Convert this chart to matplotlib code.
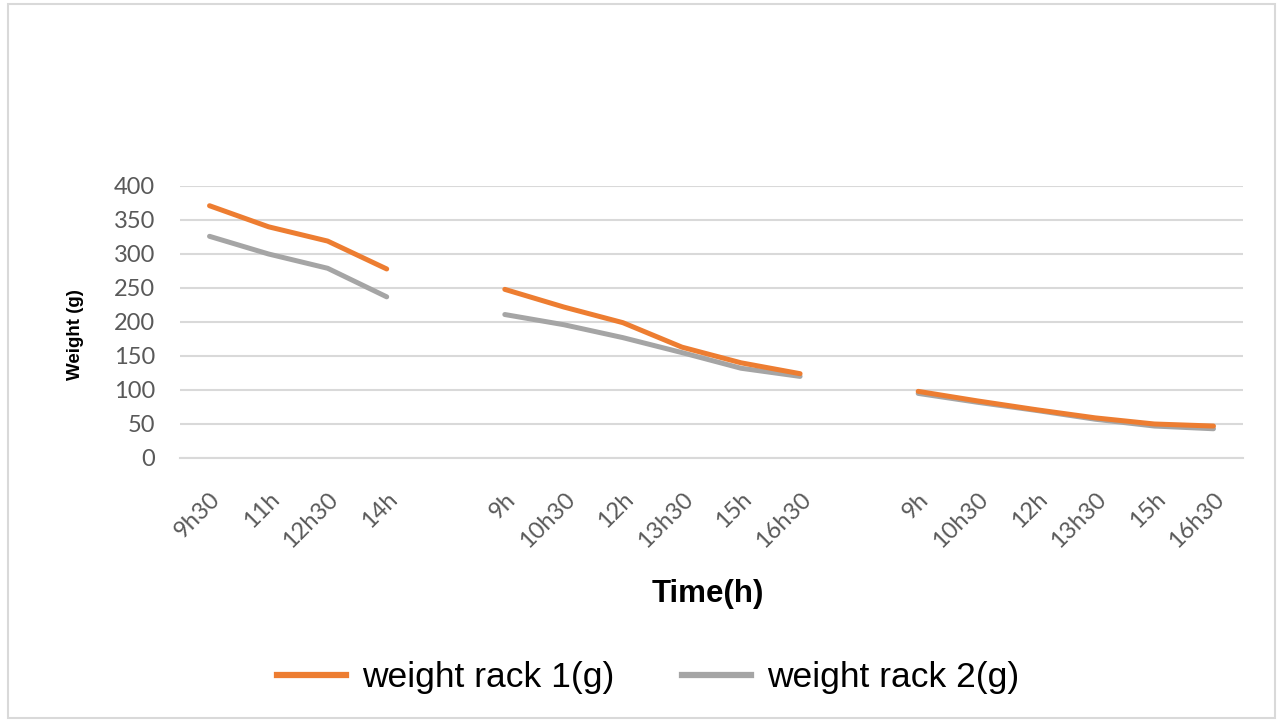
import numpy as np
import matplotlib.pyplot as plt
from matplotlib.patches import Rectangle
from matplotlib.lines import Line2D

# three days of drying, blank slots separate the days
time_labels = ["9h30", "11h", "12h30", "14h", "",
               "9h", "10h30", "12h", "13h30", "15h", "16h30", "",
               "9h", "10h30", "12h", "13h30", "15h", "16h30"]
nan = np.nan
rack1 = [371, 340, 319, 278, nan,
         248, 222, 199, 163, 140, 124, nan,
         98, 84, 71, 59, 50, 47]
rack2 = [326, 300, 279, 237, nan,
         211, 196, 177, 155, 132, 120, nan,
         95, 82, 70, 57, 47, 43]

orange = "#ED7D31"
gray = "#A5A5A5"

fig = plt.figure(figsize=(12.82, 7.25), dpi=100)
fig.patches.append(Rectangle((8 / 1282, 7 / 725), 1267 / 1282, 714 / 725,
                             transform=fig.transFigure, fill=False,
                             edgecolor="#D9D9D9", linewidth=1.5))

ax = fig.add_axes([180 / 1282, 1 - 458 / 725, 1063 / 1282, 272 / 725])
x = np.arange(len(time_labels))
ax.plot(x, rack2, color=gray, linewidth=3.6, solid_capstyle="round", zorder=3)
ax.plot(x, rack1, color=orange, linewidth=3.6, solid_capstyle="round", zorder=4)

ax.set_xlim(-0.5, len(time_labels) - 0.5)
ax.set_ylim(0, 400)
ax.set_yticks(range(0, 401, 50))
ax.yaxis.grid(True, color="#D9D9D9", linewidth=1.5)
ax.set_axisbelow(True)
for side in ["top", "right", "left"]:
    ax.spines[side].set_visible(False)
ax.spines["bottom"].set_color("#D9D9D9")
ax.spines["bottom"].set_linewidth(1.5)

ax.set_xticks(x)
ax.set_xticklabels(time_labels, rotation=45, ha="right", rotation_mode="anchor",
                   fontsize=17, color="#595959", family="Lato")
ax.tick_params(axis="both", length=0)
ax.tick_params(axis="x", pad=22)
ax.tick_params(axis="y", pad=18)
for lbl in ax.get_yticklabels():
    lbl.set_fontsize(17)
    lbl.set_color("#595959")
    lbl.set_family("Lato")

fig.text(75 / 1282, 1 - 335 / 725, "Weight (g)", rotation=90, ha="center", va="center",
         fontsize=13.5, fontweight="bold", family="Liberation Sans")
fig.text(708 / 1282, 1 - 594 / 725, "Time(h)", ha="center", va="center",
         fontsize=22.5, fontweight="bold", family="Liberation Sans")

handles = [Line2D([], [], color=orange, linewidth=4.5),
           Line2D([], [], color=gray, linewidth=4.5)]
fig.legend(handles, ["weight rack 1(g)", "weight rack 2(g)"], loc="center",
           bbox_to_anchor=(648 / 1282, 1 - 678 / 725), ncol=2, frameon=False,
           prop={"family": "Liberation Sans", "size": 25.5},
           handlelength=1.95, handletextpad=0.45, columnspacing=1.9)

plt.savefig("out.png", dpi=100)
